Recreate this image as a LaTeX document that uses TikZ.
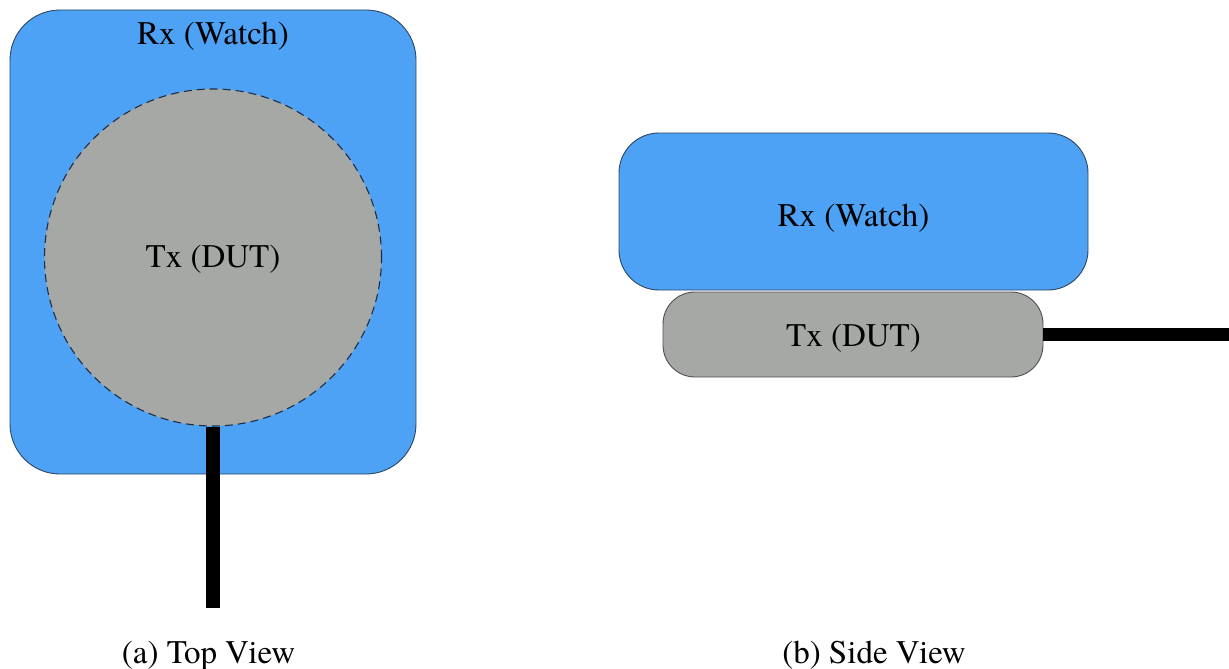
\documentclass[tikz,border=0pt]{standalone}
\usepackage{fontspec}
\IfFontExistsTF{texgyretermes-regular.otf}{\setmainfont{texgyretermes-regular.otf}}{\setmainfont{Latin Modern Roman}}
\definecolor{watchblue}{RGB}{77,162,245}
\definecolor{dutgray}{RGB}{166,168,165}
\definecolor{blueedge}{RGB}{45,70,100}
\definecolor{grayedge}{RGB}{80,80,80}
\definecolor{dashnavy}{RGB}{30,45,70}
\tikzset{
  lbl/.style={font=\fontsize{33}{40}\selectfont, anchor=base, inner sep=0pt},
  watchbox/.style={draw=blueedge, line width=0.9pt, fill=watchblue, rectangle, inner sep=0pt},
  dutbox/.style={draw=grayedge, line width=0.9pt, fill=dutgray, rectangle, inner sep=0pt},
  cable/.style={line width=13.5pt, black, line cap=butt},
}
\begin{document}
\begin{tikzpicture}[x=1pt, y=-1pt]
\useasboundingbox (0,0) rectangle (1229,669);
% (a) Top view
\node[watchbox, rounded corners=50pt, minimum width=406pt, minimum height=464pt] (rxa) at (213,242) {};
\node[lbl] (rxatext) at (213,45) {Rx (Watch)};
\node[fill=dutgray, draw=dashnavy, dash pattern=on 8pt off 5pt, line width=1.1pt, circle, inner sep=0pt, minimum size=337pt] (txa) at (213,257.5) {};
\node[lbl] (txatext) at (213,267.5) {Tx (DUT)};
\coordinate (enda) at (213,608);
\draw[cable] (txa.south) -- (enda);
\node[lbl] (capa) at (208.5,663) {(a) Top View};
% (b) Side view
\node[dutbox, rounded corners=32pt, minimum width=380pt, minimum height=85pt] (txb) at (853,334.5) {};
\node[watchbox, rounded corners=40pt, minimum width=469pt, minimum height=157pt] (rxb) at (853.5,211.5) {};
\node[lbl] (rxbtext) at (853.5,226) {Rx (Watch)};
\node[lbl] (txbtext) at (853.5,346) {Tx (DUT)};
\coordinate (endb) at (1229,334.5);
\draw[cable] (txb.east) -- (endb);
\node[lbl] (capb) at (874,663) {(b) Side View};
\end{tikzpicture}
\end{document}
